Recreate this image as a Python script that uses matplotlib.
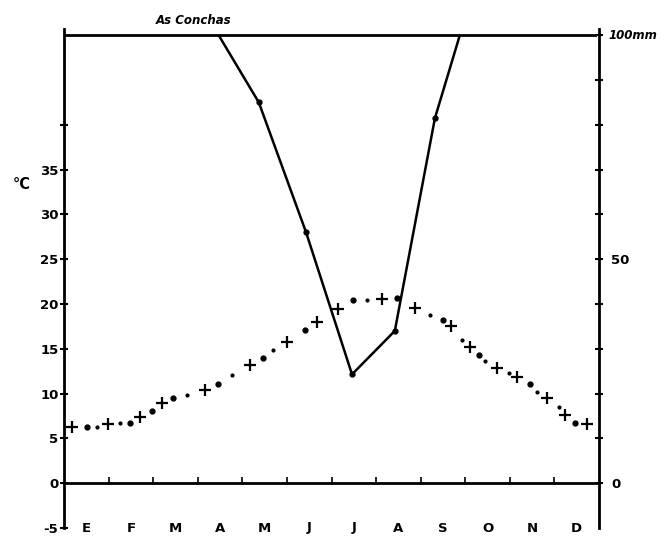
import numpy as np
import matplotlib
matplotlib.use("Agg")
import matplotlib.pyplot as plt
from matplotlib.patches import Rectangle

months = ["E", "F", "M", "A", "M", "J", "J", "A", "S", "O", "N", "D"]

# precipitation (mm), hand placed points; values above 100 are cut at the top line
prec_x = [3.35, 4.37, 5.43, 6.46, 7.42, 8.32, 9.30]
prec_mm = [102, 85, 56, 24.3, 34, 81.5, 114]

# temperature curve (deg C): crosses, big dots, small dots
cross_x = [0.18, 0.99, 1.70, 2.20, 3.16, 4.17, 5.00, 5.67, 6.14, 7.13,
           7.87, 8.68, 9.10, 9.71, 10.16, 10.83, 11.23, 11.73]
cross_t = [6.3, 6.6, 7.4, 9.0, 10.4, 13.2, 15.8, 18.0, 19.4, 20.6,
           19.6, 17.5, 15.2, 12.9, 11.8, 9.5, 7.6, 6.6]
bigdot_x = [0.52, 1.48, 1.97, 2.44, 3.45, 4.46, 5.40, 6.48, 7.47, 8.50, 9.30, 10.45, 11.46]
bigdot_t = [6.3, 6.75, 8.1, 9.5, 11.1, 14.0, 17.1, 20.4, 20.7, 18.2, 14.3, 11.1, 6.75]
smalldot_x = [0.74, 1.26, 2.76, 3.77, 4.69, 6.79, 8.21, 8.92, 9.44, 9.98, 10.61, 11.10]
smalldot_t = [6.3, 6.75, 9.9, 12.1, 14.9, 20.4, 18.8, 16.0, 13.6, 12.3, 10.2, 8.5]

temp_ticks = np.arange(-5, 41, 5)
temp_labels = [str(t) if t <= 35 else "" for t in temp_ticks]
mm_ticks = np.arange(0, 101, 10)
mm_labels = ["0" if m == 0 else "50" if m == 50 else "" for m in mm_ticks]

fig = plt.figure(figsize=(6.64, 5.36), dpi=100)
ax = fig.add_axes([64/664, (536-528)/536, 535/664, (528-29)/536])
ax.set_xlim(0, 12)
ax.set_ylim(-5, 50.7)

for s in ["top", "right"]:
    ax.spines[s].set_visible(False)
ax.spines["left"].set_linewidth(2)
ax.spines["bottom"].set_position(("data", 0))
ax.spines["bottom"].set_linewidth(2)

ax.set_yticks(temp_ticks)
ax.set_yticklabels(temp_labels, fontsize=9.5, fontweight="bold")
ax.tick_params(axis="y", direction="inout", length=6, width=1.5, pad=1)
ax.set_xticks(np.arange(1, 12))
ax.set_xticklabels([])
ax.tick_params(axis="x", direction="in", length=4, width=1.2)

# top line at 100 mm
ax.plot([0, 11.9], [50, 50], color="black", lw=2)

# right axis in mm
ax2 = ax.twinx()
ax2.set_ylim(-10, 101.4)
for s in ["top", "left", "bottom"]:
    ax2.spines[s].set_visible(False)
ax2.spines["right"].set_linewidth(2)
ax2.set_yticks(mm_ticks)
ax2.set_yticklabels(mm_labels, fontsize=9.5, fontweight="bold")
ax2.tick_params(axis="y", direction="inout", length=6, width=1.5, pad=6)
ax2.text(1.018, 100, "100mm", transform=ax2.get_yaxis_transform(),
         fontsize=8.5, fontweight="bold", style="italic", va="center", ha="left")

# precipitation line, cut at 100 mm
clip = Rectangle((0, -5), 12, 55, transform=ax.transData)
pl, = ax.plot(prec_x, np.array(prec_mm) / 2, color="black", lw=1.8,
              marker="o", ms=3.5)
pl.set_clip_path(clip)

# temperature
ax.plot(cross_x, cross_t, ls="none", marker="+", ms=9, mew=1.6, color="black")
ax.plot(bigdot_x, bigdot_t, ls="none", marker="o", ms=3.5, color="black")
ax.plot(smalldot_x, smalldot_t, ls="none", marker="o", ms=2, color="black")

for i, m in enumerate(months):
    ax.text(i + 0.5, -5, m, ha="center", va="center", fontsize=9.5, fontweight="bold")

ax.text(-0.95, 33.3, "°C", ha="center", va="center", fontsize=10.5, fontweight="bold")
ax.text(2.9, 51.6, "As Conchas", ha="center", va="center", fontsize=8.5,
        fontweight="bold", style="italic")

fig.savefig("out.png", dpi=100)
